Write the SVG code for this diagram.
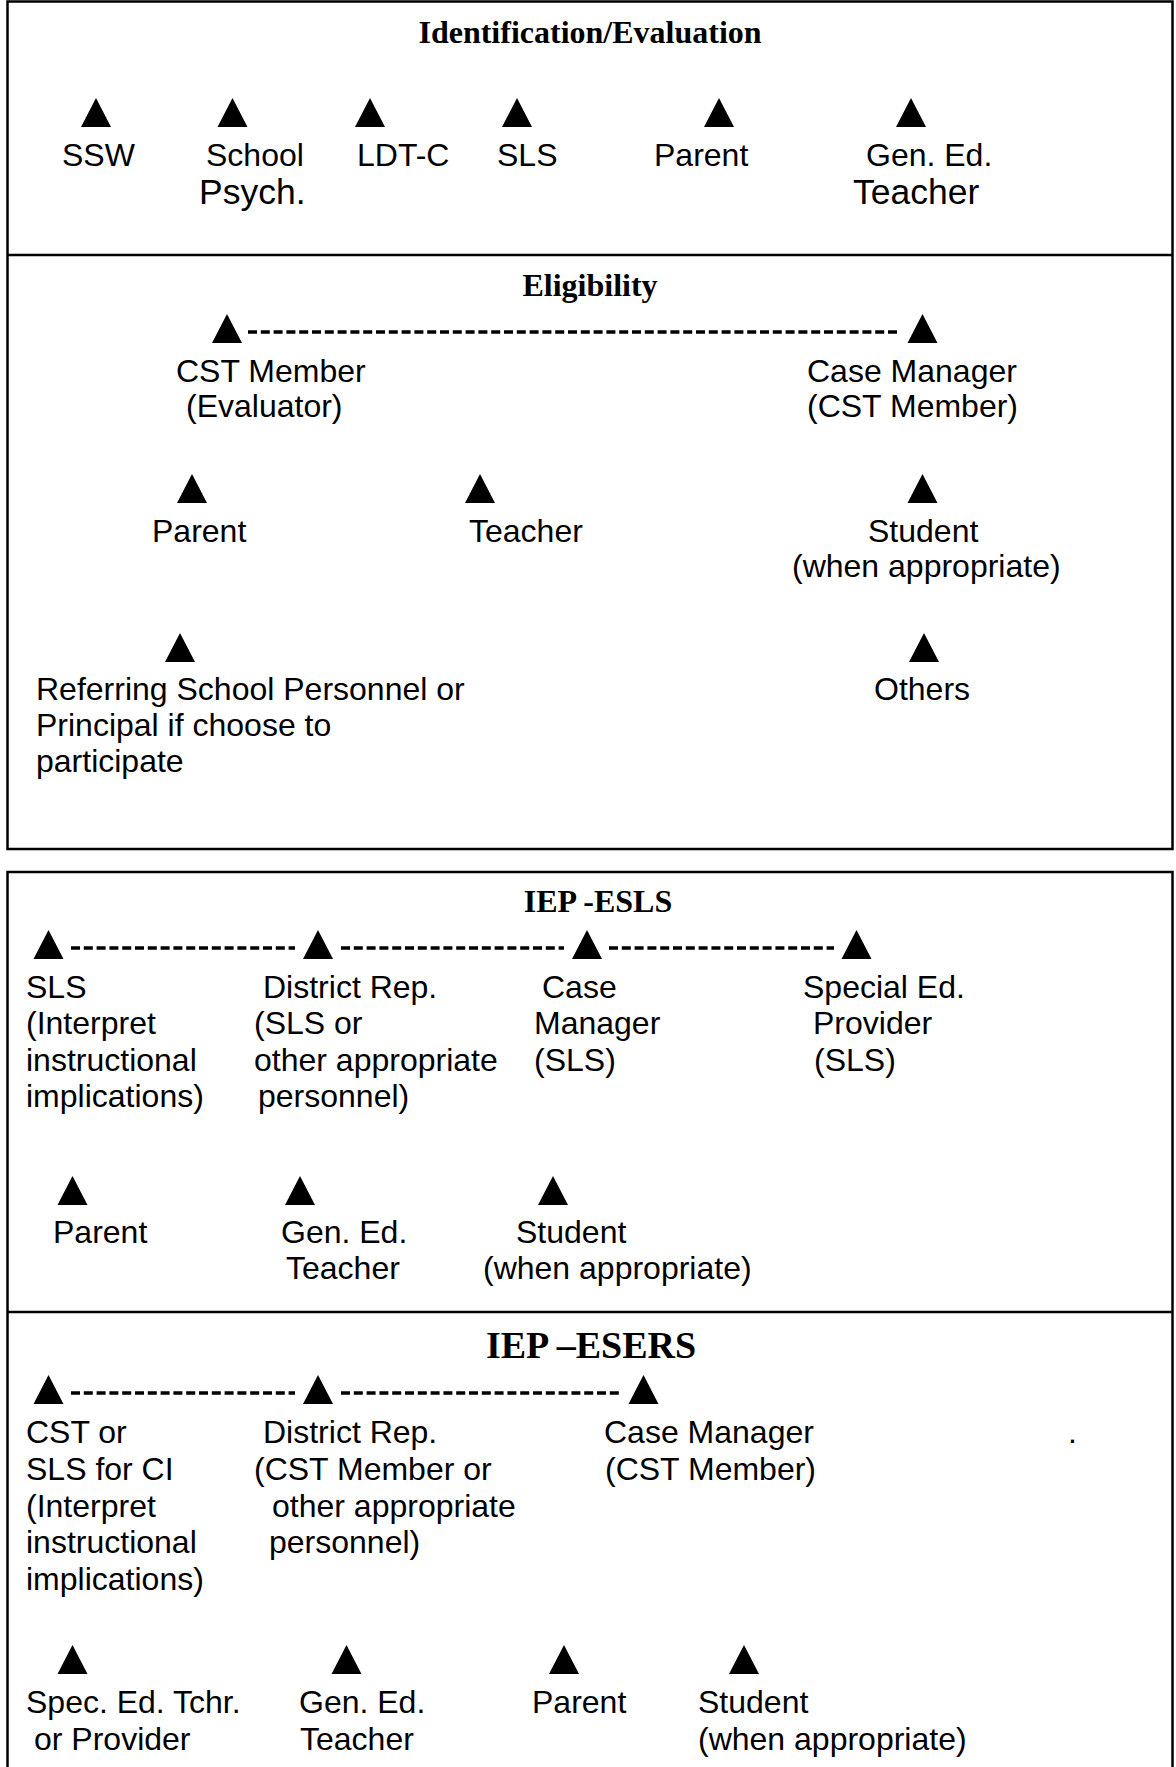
<svg xmlns="http://www.w3.org/2000/svg" xmlns:xlink="http://www.w3.org/1999/xlink" width="1176" height="1767" viewBox="0 0 1176 1767">
<style>
.frame{fill:none;stroke:#000;stroke-width:2.5}
.div{stroke:#000;stroke-width:2.5}
.ttl{font-family:"Liberation Serif","Times New Roman",serif;font-weight:bold;font-size:32px;fill:#000;text-anchor:middle}
.lbl{font-family:"Liberation Sans",Arial,sans-serif;font-size:32px;fill:#000}
.big{font-size:35.5px}
.tri{fill:#000}
.dash{stroke:#000;stroke-width:3.6;stroke-dasharray:9 3.8;fill:none}
</style>
<defs>
<polygon id="tri" points="-15,0 0,-29 15,0"/>
</defs>
<rect width="1176" height="1767" fill="#fff"/>

<!-- frames -->
<rect class="frame" x="7.5" y="1.5" width="1165" height="847.5"/>
<line class="div" x1="7.5" y1="255" x2="1172.5" y2="255"/>
<path class="frame" d="M7.5,1790 V872 H1172.5 V1790"/>
<line class="div" x1="7.5" y1="1312" x2="1172.5" y2="1312"/>

<!-- titles -->
<text class="ttl" x="590" y="43">Identification/Evaluation</text>
<text class="ttl" x="590" y="296">Eligibility</text>
<text class="ttl" x="598" y="912">IEP -ESLS</text>
<text class="ttl" x="591" y="1358" style="font-size:38px">IEP –ESERS</text>

<g id="connectors">
<line class="dash" x1="248" y1="332" x2="900" y2="332"/>
<line class="dash" x1="71" y1="948" x2="295" y2="948"/>
<line class="dash" x1="341" y1="948" x2="564" y2="948"/>
<line class="dash" x1="609" y1="948" x2="834" y2="948"/>
<line class="dash" x1="71" y1="1393" x2="295" y2="1393"/>
<line class="dash" x1="341" y1="1393" x2="621" y2="1393"/>
</g>

<!-- Identification / Evaluation -->
<g id="n-ssw"><use xlink:href="#tri" class="tri" x="96" y="127"/><text class="lbl" x="62" y="166">SSW</text></g>
<g id="n-school-psych"><use xlink:href="#tri" class="tri" x="232.5" y="127"/><text class="lbl" x="206" y="166">School</text><text class="lbl big" x="199" y="204">Psych.</text></g>
<g id="n-ldtc"><use xlink:href="#tri" class="tri" x="370" y="127"/><text class="lbl" x="357" y="166">LDT-C</text></g>
<g id="n-sls"><use xlink:href="#tri" class="tri" x="517" y="127"/><text class="lbl" x="497" y="166">SLS</text></g>
<g id="n-parent"><use xlink:href="#tri" class="tri" x="719" y="127"/><text class="lbl" x="654" y="166">Parent</text></g>
<g id="n-gened"><use xlink:href="#tri" class="tri" x="911" y="127"/><text class="lbl" x="866" y="166">Gen. Ed.</text><text class="lbl big" x="853" y="204">Teacher</text></g>

<!-- Eligibility -->
<g id="e-cst"><use xlink:href="#tri" class="tri" x="227" y="343"/><text class="lbl" x="176" y="382">CST Member</text><text class="lbl" x="186" y="417">(Evaluator)</text></g>
<g id="e-casemgr"><use xlink:href="#tri" class="tri" x="922.5" y="343"/><text class="lbl" x="807" y="382">Case Manager</text><text class="lbl" x="807" y="417">(CST Member)</text></g>
<g id="e-parent"><use xlink:href="#tri" class="tri" x="192" y="503"/><text class="lbl" x="152" y="542">Parent</text></g>
<g id="e-teacher"><use xlink:href="#tri" class="tri" x="480" y="503"/><text class="lbl" x="469" y="542">Teacher</text></g>
<g id="e-student"><use xlink:href="#tri" class="tri" x="922.5" y="503"/><text class="lbl" x="868" y="542">Student</text><text class="lbl" x="792" y="577">(when appropriate)</text></g>
<g id="e-referring"><use xlink:href="#tri" class="tri" x="180" y="662"/><text class="lbl" x="36" y="700">Referring School Personnel or</text><text class="lbl" x="36" y="736">Principal if choose to</text><text class="lbl" x="36" y="772">participate</text></g>
<g id="e-others"><use xlink:href="#tri" class="tri" x="924" y="662"/><text class="lbl" x="874" y="700">Others</text></g>

<!-- IEP - ESLS -->
<g id="s-sls"><use xlink:href="#tri" class="tri" x="48.5" y="959"/><text class="lbl" x="26" y="998">SLS</text><text class="lbl" x="26" y="1034">(Interpret</text><text class="lbl" x="26" y="1071">instructional</text><text class="lbl" x="26" y="1107">implications)</text></g>
<g id="s-distrep"><use xlink:href="#tri" class="tri" x="318" y="959"/><text class="lbl" x="263" y="998">District Rep.</text><text class="lbl" x="254" y="1034">(SLS or</text><text class="lbl" x="254" y="1071">other appropriate</text><text class="lbl" x="258" y="1107">personnel)</text></g>
<g id="s-casemgr"><use xlink:href="#tri" class="tri" x="587" y="959"/><text class="lbl" x="542" y="998">Case</text><text class="lbl" x="534" y="1034">Manager</text><text class="lbl" x="534" y="1071">(SLS)</text></g>
<g id="s-specialed"><use xlink:href="#tri" class="tri" x="856.5" y="959"/><text class="lbl" x="803" y="998">Special Ed.</text><text class="lbl" x="813" y="1034">Provider</text><text class="lbl" x="814" y="1071">(SLS)</text></g>
<g id="s-parent"><use xlink:href="#tri" class="tri" x="72.5" y="1205"/><text class="lbl" x="53" y="1243">Parent</text></g>
<g id="s-gened"><use xlink:href="#tri" class="tri" x="300" y="1205"/><text class="lbl" x="281" y="1243">Gen. Ed.</text><text class="lbl" x="286" y="1279">Teacher</text></g>
<g id="s-student"><use xlink:href="#tri" class="tri" x="553" y="1205"/><text class="lbl" x="516" y="1243">Student</text><text class="lbl" x="483" y="1279">(when appropriate)</text></g>

<!-- IEP - ESERS -->
<g id="r-cst"><use xlink:href="#tri" class="tri" x="48.5" y="1404"/><text class="lbl" x="26" y="1443">CST or</text><text class="lbl" x="26" y="1480">SLS for CI</text><text class="lbl" x="26" y="1517">(Interpret</text><text class="lbl" x="26" y="1553">instructional</text><text class="lbl" x="26" y="1590">implications)</text></g>
<g id="r-distrep"><use xlink:href="#tri" class="tri" x="318" y="1404"/><text class="lbl" x="263" y="1443">District Rep.</text><text class="lbl" x="254" y="1480">(CST Member or</text><text class="lbl" x="272" y="1517">other appropriate</text><text class="lbl" x="269" y="1553">personnel)</text></g>
<g id="r-casemgr"><use xlink:href="#tri" class="tri" x="643.5" y="1404"/><text class="lbl" x="604" y="1443">Case Manager</text><text class="lbl" x="605" y="1480">(CST Member)</text></g>
<text class="lbl" x="1068" y="1443">.</text>
<g id="r-spec"><use xlink:href="#tri" class="tri" x="72.5" y="1674"/><text class="lbl" x="26" y="1713">Spec. Ed. Tchr.</text><text class="lbl" x="34" y="1750">or Provider</text></g>
<g id="r-gened"><use xlink:href="#tri" class="tri" x="346.5" y="1674"/><text class="lbl" x="299" y="1713">Gen. Ed.</text><text class="lbl" x="300" y="1750">Teacher</text></g>
<g id="r-parent"><use xlink:href="#tri" class="tri" x="564" y="1674"/><text class="lbl" x="532" y="1713">Parent</text></g>
<g id="r-student"><use xlink:href="#tri" class="tri" x="744" y="1674"/><text class="lbl" x="698" y="1713">Student</text><text class="lbl" x="698" y="1750">(when appropriate)</text></g>
</svg>
